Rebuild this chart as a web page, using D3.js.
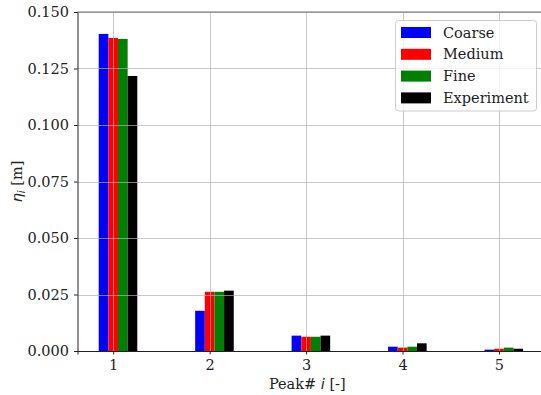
<!DOCTYPE html>
<html>
  <head>
    <meta charset="utf-8">
    <script src="https://d3js.org/d3.v7.min.js"></script>
    <style>
      body { margin: 0; }
      text, tspan { font-family: "DejaVu Serif" !important; }
      tspan.math { font-family: "DejaVu Sans" !important; font-style: italic; }
    </style>
  </head>
  <body>
    <div id="chart"></div>
  </body>
  <script>
    // peaks and measured / simulated heights [m]
    const peaks = [1, 2, 3, 4, 5]
    const series = ["Coarse", "Medium", "Fine", "Experiment"]
    const colors = ["#0000ff", "#ff0000", "#008000", "#000000"]
    const coarse = [0.1403, 0.0178, 0.0068, 0.0019, 0.0006]
    const medium = [0.1385, 0.0262, 0.0063, 0.0015, 0.0010]
    const fine = [0.1381, 0.0262, 0.0063, 0.0019, 0.0015]
    const experiment = [0.1217, 0.0267, 0.0068, 0.0034, 0.0010]
    const yTicks = [0, 0.025, 0.05, 0.075, 0.1, 0.125, 0.15]
    const offsets = [-0.1, 0, 0.1, 0.2]
    const barW = 0.1

    const allValues = [coarse, medium, fine, experiment]

    const W = 541, H = 395
    const margin = {top: 12, left: 77.5, bottom: 44}

    const svg = d3.select("#chart").append("svg")
      .attr("width", W).attr("height", H)

    const x = d3.scaleLinear().domain([0.63, 5.47]).range([margin.left, 544.3])
    const y = d3.scaleLinear().domain([0, 0.15]).range([H - margin.bottom, margin.top])

    // bars
    allValues.forEach((vals, s) => {
      svg.append("g").selectAll("rect")
        .data(vals)
        .join("rect")
          .attr("x", (d, i) => x(peaks[i] + offsets[s] - barW / 2))
          .attr("width", (d, i) => x(peaks[i] + offsets[s] + barW / 2) - x(peaks[i] + offsets[s] - barW / 2))
          .attr("y", d => y(d))
          .attr("height", d => y(0) - y(d))
          .attr("fill", colors[s])
    })

    // grid on top of bars
    const grid = svg.append("g").attr("stroke", "#b0b0b0").attr("stroke-opacity", 0.7).attr("stroke-width", 1)
    grid.selectAll(".gy").data(yTicks).join("line")
      .attr("x1", margin.left).attr("x2", W)
      .attr("y1", d => Math.round(y(d)) + 0.5).attr("y2", d => Math.round(y(d)) + 0.5)
    grid.selectAll(".gx").data(peaks).join("line")
      .attr("y1", margin.top).attr("y2", y(0))
      .attr("x1", d => Math.round(x(d)) + 0.5).attr("x2", d => Math.round(x(d)) + 0.5)

    // axes
    const yAx = svg.append("g")
      .attr("transform", `translate(${margin.left},0)`)
      .call(d3.axisLeft(y).tickValues(yTicks).tickFormat(d3.format(".3f")).tickSizeOuter(0).tickSize(3.5).tickPadding(5))
    const xAx = svg.append("g")
      .attr("transform", `translate(0,${y(0)})`)
      .call(d3.axisBottom(x).tickValues(peaks).tickFormat(d3.format("d")).tickSizeOuter(0).tickSize(3.5).tickPadding(5))
    yAx.attr("font-family", null).attr("font-size", null)
    xAx.attr("font-family", null).attr("font-size", null)
    svg.selectAll(".tick text")
      .attr("font-size", 14.5)
      .attr("fill", "#222")
    svg.selectAll(".domain").attr("stroke", "#222")
    svg.selectAll(".tick line").attr("stroke", "#222")

    // top spine
    svg.append("line")
      .attr("x1", margin.left).attr("x2", W)
      .attr("y1", margin.top).attr("y2", margin.top)
      .attr("stroke", "#6e6e6e").attr("stroke-width", 1.2)

    // axis labels
    const xl = svg.append("text")
      .attr("x", (margin.left + 537) / 2).attr("y", 389)
      .attr("text-anchor", "middle").attr("font-size", 14.5).attr("fill", "#222")
    xl.append("tspan").text("Peak# ")
    xl.append("tspan").attr("class", "math").text("i")
    xl.append("tspan").text(" [-]")

    const yl = svg.append("text")
      .attr("transform", `translate(22,${(margin.top + y(0)) / 2}) rotate(-90)`)
      .attr("text-anchor", "middle").attr("font-size", 14.5).attr("fill", "#222")
    yl.append("tspan").attr("class", "math").text("η")
    yl.append("tspan").attr("class", "math")
      .attr("font-size", 10).attr("dy", 3).text("i")
    yl.append("tspan").attr("dy", -3).text(" [m]")

    // legend
    const lg = svg.append("g")
    lg.append("rect")
      .attr("x", 395.5).attr("y", 20.5).attr("width", 141).attr("height", 90.5)
      .attr("rx", 3).attr("fill", "#fff").attr("fill-opacity", 0.8)
      .attr("stroke", "#cccccc")
    series.forEach((name, s) => {
      const cy = 32.5 + s * 21.8
      lg.append("rect").attr("x", 401).attr("y", cy - 5.5).attr("width", 30).attr("height", 11)
        .attr("fill", colors[s])
      lg.append("text").attr("x", 443).attr("y", cy + 5).attr("font-size", 14.5)
        .attr("fill", "#222").text(name)
    })
  </script>
</html>
